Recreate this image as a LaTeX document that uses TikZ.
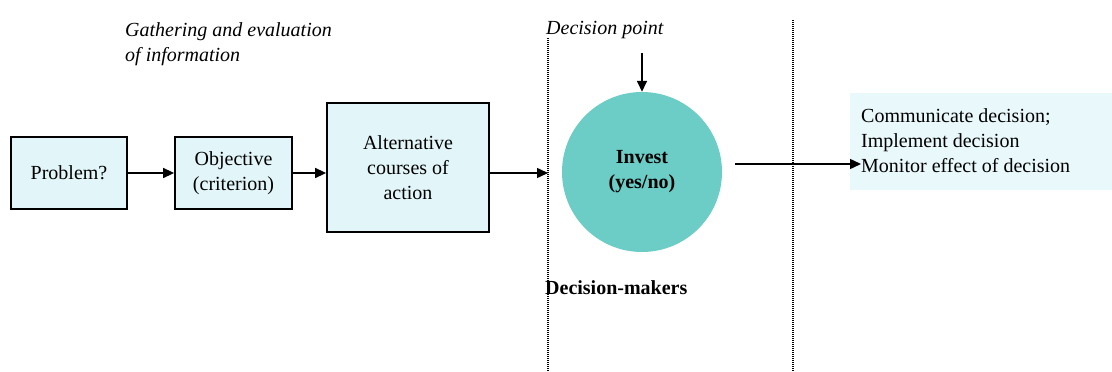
\documentclass[tikz,border=0pt]{standalone}
\usepackage{fontspec}
\setmainfont{Liberation Serif}
\usetikzlibrary{arrows.meta,calc}
\definecolor{boxfill}{RGB}{226,246,250}
\definecolor{circfill}{RGB}{108,204,198}
\definecolor{outfill}{RGB}{232,248,251}
\begin{document}
\begin{tikzpicture}[x=1pt,y=-1pt,
  txt/.style={font=\fontsize{20}{25}\selectfont, inner sep=0pt},
  procbox/.style={txt, draw=black, line width=1.8pt, fill=boxfill, align=center},
  arr/.style={line width=1.5pt, -{Triangle[length=11pt,width=10pt]}},
  sep/.style={line width=1.3pt, dash pattern=on 1pt off 1pt}]
\useasboundingbox (0,0) rectangle (1112,372);
% separators
\draw[sep] (548,38) -- (548,372);
\draw[sep] (793,20) -- (793,372);
% output background
\fill[outfill] (850,93) rectangle (1112,190);
% labels
\node[txt, anchor=west, align=left, font=\fontsize{20}{25}\selectfont\itshape] (gath) at (125,44.5) {Gathering and evaluation\\of information};
\node[txt, anchor=west, font=\fontsize{20}{25}\selectfont\itshape] (dpt) at (546,30) {Decision point};
\node[txt, anchor=west, font=\fontsize{20}{25}\selectfont\bfseries] (dm) at (545,288) {Decision-makers};
% boxes
\node[procbox, minimum width=116pt, minimum height=72pt] (prob) at (69,173) {Problem?};
\node[procbox, minimum width=117pt, minimum height=72pt] (obj) at (233.5,173) {Objective\\(criterion)};
\node[procbox, minimum width=162pt, minimum height=129pt] (alt) at (408,167.5) {Alternative\\courses of\\action};
\node[txt, circle, fill=circfill, minimum size=160pt, align=center, font=\fontsize{20}{25}\selectfont\bfseries] (inv) at (642,172) {Invest\\(yes/no)};
\node[txt, anchor=west, align=left] (out) at (861,141) {Communicate decision;\\Implement decision\\Monitor effect of decision};
% coordinates
\coordinate (d1) at (548,173);
\coordinate (dtop) at (642,53);
\coordinate (c1) at (735,164);
% connectors
\draw[arr] (prob.east) -- (obj.west);
\draw[arr] (obj.east) -- (obj.east -| alt.west);
\draw[arr] (alt.east |- obj.east) -- (d1);
\draw[arr] (dtop) -- (inv.north);
\draw[arr] (c1) -- (c1 -| out.west);
\end{tikzpicture}
\end{document}
